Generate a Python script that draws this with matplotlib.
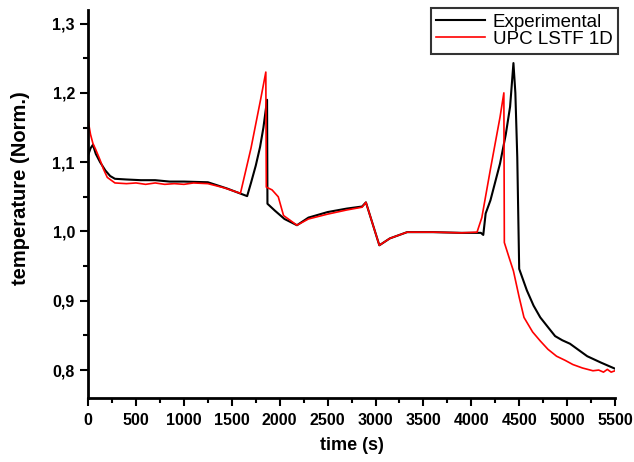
import numpy as np
import matplotlib.pyplot as plt
from matplotlib.ticker import MultipleLocator, FuncFormatter

# experimental curve (time s, normalised temperature)
t_exp = [0, 25, 50, 80, 125, 180, 230, 280, 400, 550, 700, 850, 1000, 1250,
         1450, 1660, 1700, 1750, 1795, 1830, 1868, 1872, 1950, 2050, 2180,
         2300, 2500, 2700, 2860, 2900, 3040, 3150, 3330, 3600, 3900, 4100,
         4125, 4150, 4200, 4300, 4360, 4405, 4440, 4460, 4480, 4500, 4580,
         4650, 4720, 4800, 4875, 4950, 5030, 5120, 5210, 5350, 5500]
y_exp = [1.11, 1.12, 1.125, 1.112, 1.10, 1.088, 1.08, 1.076, 1.075, 1.074,
         1.074, 1.072, 1.072, 1.071, 1.062, 1.051, 1.07, 1.095, 1.122, 1.15,
         1.19, 1.04, 1.03, 1.018, 1.009, 1.02, 1.028, 1.033, 1.036, 1.042,
         0.98, 0.99, 0.999, 0.999, 0.998, 0.998, 0.995, 1.026, 1.045, 1.098,
         1.14, 1.18, 1.243, 1.2, 1.107, 0.946, 0.915, 0.893, 0.876, 0.862,
         0.849, 0.843, 0.838, 0.829, 0.82, 0.811, 0.802]

# UPC LSTF 1D model curve
t_mod = [0, 25, 50, 80, 125, 160, 200, 280, 400, 500, 600, 700, 800, 900,
         1000, 1100, 1250, 1420, 1590, 1700, 1800, 1855, 1860, 1920, 1985,
         2040, 2180, 2300, 2500, 2700, 2860, 2900, 3040, 3150, 3330, 3600,
         3900, 4060, 4110, 4200, 4300, 4340, 4345, 4400, 4440, 4500, 4550,
         4640, 4720, 4800, 4890, 4980, 5060, 5160, 5270, 5330, 5380, 5420,
         5460, 5500]
y_mod = [1.16, 1.14, 1.127, 1.118, 1.103, 1.09, 1.078, 1.07, 1.069, 1.07,
         1.068, 1.07, 1.068, 1.069, 1.068, 1.07, 1.069, 1.063, 1.055, 1.12,
         1.19, 1.23, 1.064, 1.06, 1.05, 1.023, 1.009, 1.018, 1.025, 1.031,
         1.035, 1.042, 0.98, 0.99, 0.999, 0.999, 0.998, 0.999, 1.02, 1.09,
         1.165, 1.2, 0.984, 0.96, 0.943, 0.905, 0.876, 0.855, 0.842, 0.83,
         0.82, 0.814, 0.808, 0.803, 0.799, 0.8, 0.797, 0.801, 0.797, 0.799]

plt.rcParams['font.family'] = ['Liberation Sans', 'DejaVu Sans']

fig = plt.figure(figsize=(6.34, 4.62), dpi=100)
ax = fig.add_axes([0.139, 0.139, 0.831, 0.84])

ax.plot(t_exp, y_exp, color='black', lw=1.5, label='Experimental')
ax.plot(t_mod, y_mod, color='red', lw=1.2, label='UPC LSTF 1D')

ax.set_xlim(0, 5500)
ax.set_ylim(0.76, 1.32)
ax.xaxis.set_major_locator(MultipleLocator(500))
ax.xaxis.set_minor_locator(MultipleLocator(250))
ax.yaxis.set_major_locator(MultipleLocator(0.1))
ax.yaxis.set_minor_locator(MultipleLocator(0.05))
ax.yaxis.set_major_formatter(FuncFormatter(lambda v, p: f'{v:.1f}'.replace('.', ',')))

for s in ['top', 'right']:
    ax.spines[s].set_visible(False)
for s in ['left', 'bottom']:
    ax.spines[s].set_linewidth(2)
ax.tick_params(which='major', direction='out', length=6, width=1.5)
ax.tick_params(which='minor', direction='out', length=3.5, width=1.5)
ax.tick_params(axis='x', pad=5)
for lab in ax.get_xticklabels() + ax.get_yticklabels():
    lab.set_fontweight('bold')
    lab.set_fontsize(11.5)

ax.set_xlabel('time (s)', fontsize=13, fontweight='bold')
ax.xaxis.set_label_coords(0.5, -0.1)
ax.set_ylabel('temperature (Norm.)', fontsize=14.5, fontweight='bold')
ax.yaxis.set_label_coords(-0.11, 0.54)

leg = ax.legend(loc='upper right', bbox_to_anchor=(618 / 634, 1 - 8 / 462),
                bbox_transform=fig.transFigure, borderaxespad=0,
                fontsize=13.5, frameon=True, fancybox=False,
                edgecolor='black', handlelength=2.6, handletextpad=0.4,
                borderpad=0.3, labelspacing=0.0)
leg.get_frame().set_linewidth(1.5)

fig.savefig('out.png', dpi=100)
